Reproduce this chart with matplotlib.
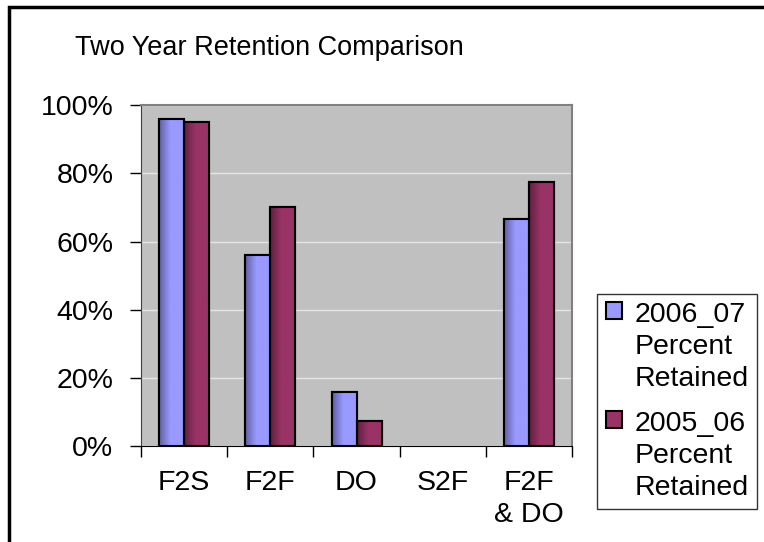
import numpy as np
import matplotlib
matplotlib.use("Agg")
import matplotlib.pyplot as plt
from matplotlib.patches import Rectangle
from matplotlib.colors import to_rgb

plt.rcParams['font.family'] = ['Liberation Sans', 'DejaVu Sans']

categories = ["F2S", "F2F", "DO", "S2F", "F2F\n& DO"]
series_names = ["2006_07\nPercent\nRetained", "2005_06\nPercent\nRetained"]
pct_2006_07 = [0.96, 0.56, 0.158, 0.0, 0.665]
pct_2005_06 = [0.95, 0.70, 0.073, 0.0, 0.775]
yticks = [0, 0.2, 0.4, 0.6, 0.8, 1.0]
ytick_labels = ["0%", "20%", "40%", "60%", "80%", "100%"]

blue = "#9999FF"
plum = "#993366"

fig = plt.figure(figsize=(7.64, 5.42), dpi=100)
ax = fig.add_axes([0.1846, 0.177, 0.5641, 0.629])

x = np.arange(len(categories))
w = 0.29


def shaded_bars(xpos, vals, color, label):
    lws = [1.5 if v > 0 else 0 for v in vals]
    bars = ax.bar(xpos, vals, w, color=color, edgecolor="black", linewidth=lws,
                  label=label, zorder=3)
    base = np.array(to_rgb(color))
    t = np.linspace(0, 1, 64)
    shade = np.clip(0.62 + 0.38 * np.minimum(t / 0.45, 1.0), 0, 1)
    img = (base[None, :] * shade[:, None])[None, :, :]
    for b in bars:
        if b.get_height() <= 0:
            continue
        im = ax.imshow(img, extent=(b.get_x(), b.get_x() + b.get_width(), 0, b.get_height()),
                       aspect="auto", zorder=3.5, interpolation="bilinear")
        im.set_clip_path(b)
        ax.add_patch(Rectangle((b.get_x(), 0), b.get_width(), b.get_height(),
                               fill=False, edgecolor="black", linewidth=1.5, zorder=4))
    return bars


shaded_bars(x - w / 2, pct_2006_07, blue, series_names[0])
shaded_bars(x + w / 2, pct_2005_06, plum, series_names[1])

ax.set_xlim(-0.5, len(categories) - 0.5)
ax.set_ylim(0, 1.0)
ax.set_facecolor("#C0C0C0")
ax.set_yticks(yticks)
ax.set_yticklabels(ytick_labels, fontsize=20.5)
ax.set_xticks(x)
ax.set_xticklabels(categories, fontsize=20.5, linespacing=1.3)
ax.tick_params(axis="x", length=0, pad=17)
ax.set_xticks(np.arange(len(categories) + 1) - 0.5, minor=True)
ax.tick_params(axis="x", which="minor", length=8, width=1, direction="out")
ax.tick_params(axis="y", length=8, width=1, direction="out", pad=12)
ax.grid(axis="y", color="#E4E4E4", linewidth=1, zorder=1)

for side in ["top", "right"]:
    ax.spines[side].set_color("#808080")
    ax.spines[side].set_linewidth(1.5)
ax.spines["left"].set_color("#404040")
ax.spines["bottom"].set_color("black")

fig.text(0.352, 0.912, "Two Year Retention Comparison", fontsize=19.5,
         ha="center", va="center")

leg = fig.legend(loc="upper left", bbox_to_anchor=(0.782, 0.458), fontsize=20.5,
                 frameon=True, fancybox=False, edgecolor="black",
                 handlelength=0.55, handleheight=0.55, handletextpad=0.45,
                 labelspacing=0.65, borderpad=0.3, borderaxespad=0)
leg.get_frame().set_linewidth(1)
for t in leg.get_texts():
    t.set_linespacing(1.3)
for col in leg._legend_handle_box.get_children():
    for row in col.get_children():
        row.align = "top"

fig.patches.append(Rectangle((9 / 764, -0.1), 1.2, 1 - 7 / 542 + 0.1,
                             transform=fig.transFigure, fill=False,
                             edgecolor="black", linewidth=2.5))

fig.savefig("out.png", dpi=100)
